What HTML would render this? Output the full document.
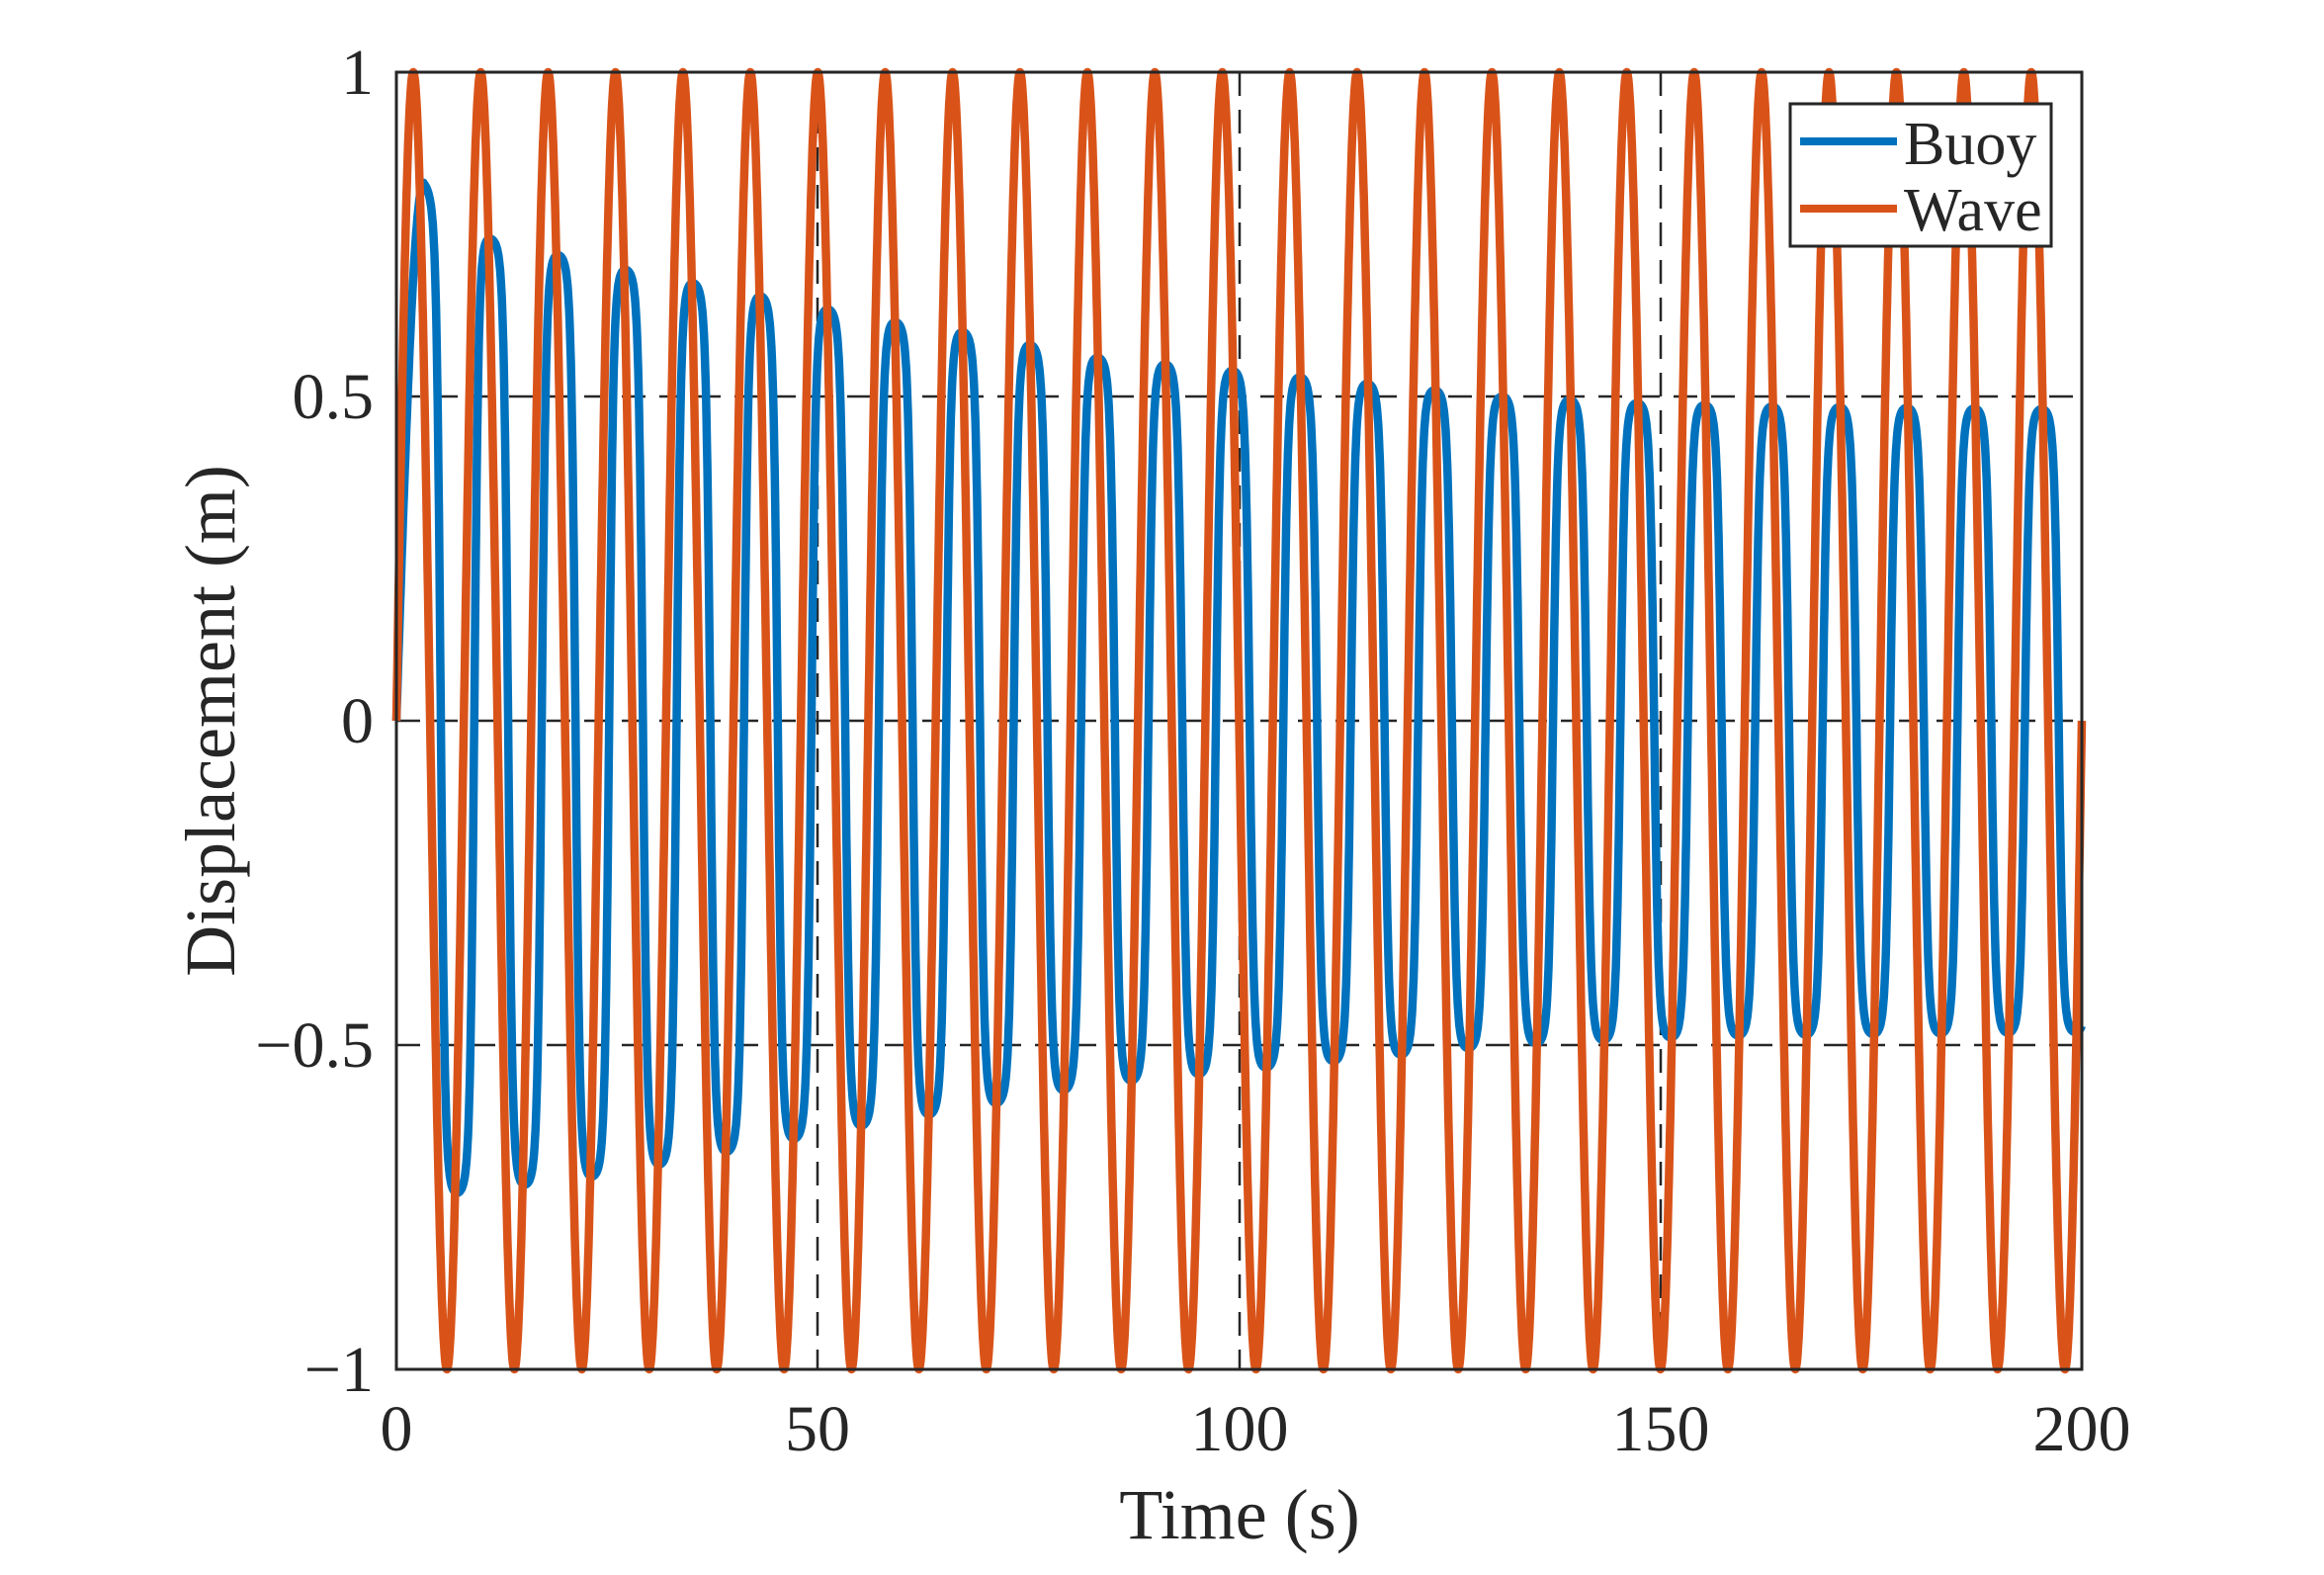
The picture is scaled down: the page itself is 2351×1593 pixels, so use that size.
<!DOCTYPE html>
<html><head><meta charset="utf-8"><style>
html,body{margin:0;padding:0;background:#fff;}
svg{display:block;}
text{font-family:"Liberation Serif",serif;fill:#262626;}
</style></head><body>
<svg id="s" width="2351" height="1593" viewBox="0 0 2351 1593" xmlns="http://www.w3.org/2000/svg">
<rect width="2351" height="1593" fill="#fff"/>
<g stroke="#262626" stroke-width="2.5" stroke-dasharray="24,14" fill="none">
<line x1="401" y1="401" x2="2106" y2="401"/>
<line x1="401" y1="729" x2="2106" y2="729"/>
<line x1="401" y1="1057" x2="2106" y2="1057"/>
<line x1="827" y1="73" x2="827" y2="1385"/>
<line x1="1254" y1="73" x2="1254" y2="1385"/>
<line x1="1680" y1="73" x2="1680" y2="1385"/>
</g>
<path id="buoy" fill="none" stroke="#0072BD" stroke-width="8.5" stroke-linejoin="round"/>
<path id="wave" fill="none" stroke="#D95319" stroke-width="8.5" stroke-linejoin="round"/>
<rect x="401" y="73" width="1705" height="1312" fill="none" stroke="#262626" stroke-width="3"/>
<g font-size="66" text-anchor="end">
<text x="378" y="95">1</text>
<text x="378" y="423">0.5</text>
<text x="378" y="751">0</text>
<text x="378" y="1079">−0.5</text>
<text x="378" y="1407">−1</text>
</g>
<g font-size="66" text-anchor="middle">
<text x="401" y="1467">0</text>
<text x="827" y="1467">50</text>
<text x="1254" y="1467">100</text>
<text x="1680" y="1467">150</text>
<text x="2106" y="1467">200</text>
</g>
<text x="1254" y="1556" font-size="72" text-anchor="middle">Time (s)</text>
<text transform="translate(237,729) rotate(-90)" font-size="72" text-anchor="middle">Displacement (m)</text>
<rect x="1811" y="105" width="264" height="144" fill="#fff" stroke="#262626" stroke-width="3"/>
<line x1="1821" y1="143" x2="1919" y2="143" stroke="#0072BD" stroke-width="8"/>
<line x1="1821" y1="211" x2="1919" y2="211" stroke="#D95319" stroke-width="8"/>
<text x="1926" y="166" font-size="62">Buoy</text>
<text x="1926" y="233" font-size="62">Wave</text>
</svg>
<script>
(function(){
function X(t){return 401+t*8.525;}
function Y(v){return 73+(1-v)*656;}
var tt=[0,3,11,19,27,35,43,51,59,67,75,83,91,99,107,115,123,131,139,147,160,200];
var aa=[0.78,0.78,0.73,0.715,0.695,0.675,0.655,0.635,0.615,0.60,0.58,0.56,0.55,0.54,0.53,0.52,0.51,0.50,0.495,0.49,0.485,0.48];
function A(t){for(var k=0;k<tt.length-1;k++){if(t<=tt[k+1]){var r=(t-tt[k])/(tt[k+1]-tt[k]);return aa[k]+r*(aa[k+1]-aa[k]);}}return 0.48;}
var w="",b="";
for(var i=0;i<=4000;i++){
 var t=i*0.05;
 var wv=Math.sin(2*Math.PI*t/8);
 w+=(i?"L":"M")+X(t).toFixed(1)+" "+Y(wv).toFixed(1);
 var bv;
 if(t<3.25){bv=0.83*Math.sin(Math.PI/2*t/3.25);}
 else{
  var s=Math.sin(2*Math.PI*(t-1.25)/8);
  var f=Math.tanh(2.4*s)/Math.tanh(2.4);
  var off=0.05*Math.exp(-(t-3.25)/6);
  bv=A(t)*f+off;
 }
 b+=(i?"L":"M")+X(t).toFixed(1)+" "+Y(bv).toFixed(1);
}
document.getElementById("wave").setAttribute("d",w);
document.getElementById("buoy").setAttribute("d",b);
})();
</script>
</body></html>
